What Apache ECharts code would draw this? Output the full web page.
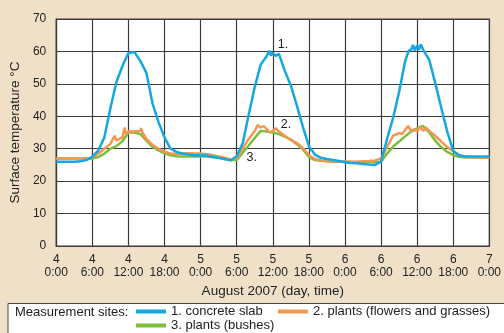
<!DOCTYPE html>
<html>
<head>
<meta charset="utf-8">
<script src="https://cdn.jsdelivr.net/npm/echarts@6/dist/echarts.min.js"></script>
<style>html,body{margin:0;padding:0;background:#f0e0c8;}#c{width:504px;height:333px;}</style>
</head>
<body>
<div id="c"></div>
<script>
// x positions in hours since 4 Aug 0:00
var hours = [0,1,2,3,4,5,6,7,8,9,10,11,12,13,14,15,16,17,18,19,20,21,22,23,24,25,26,27,28,29,30,31,32,33,34,35,36,37,38,39,40,41,42,43,44,45,46,47,48,49,50,51,52,53,54,55,56,57,58,59,60,61,62,63,64,65,66,67,68,69,70,71,72];
var xTickLabels = ['4\n0:00','4\n6:00','4\n12:00','4\n18:00','5\n0:00','5\n6:00','5\n12:00','5\n18:00','6\n0:00','6\n6:00','6\n12:00','6\n18:00','7\n0:00'];
var seriesNames = ['1. concrete slab','2. plants (flowers and grasses)','3. plants (bushes)'];
var concreteHours = [0,1,2,3,4,5,6,7,8,9,10,11,12,13,14,15,16,17,18,19,20,21,22,23,24,25,26,27,28,29,30,31,32,33,34,35,35.4,35.7,36,36.5,37,38,39,40,41,42,43,44,45,46,47,
  48,49,50,51,52,53,54,55,56,57,58,58.6,59,59.3,59.6,60,60.3,60.6,61,62,63,64,65,66,67,68,69,70,71,72];
var concrete = [26,26,26,26,26.1,26.5,27.5,29.5,33.5,42.5,50.5,55.5,59.5,59.8,57,53.3,44,38.2,33.5,30,29,28.5,28.2,28,
  28,27.8,27.5,27.2,26.8,26.4,27.6,31.7,40.5,49,56,58.6,60.2,58.7,59.6,58.6,59.3,54,49.5,43.3,36.8,30.8,28.2,27.2,26.8,26.5,26.2,
  25.8,25.6,25.5,25.3,25.1,25,26,33,39.5,47.5,57,60.2,60.5,62,60.3,61.8,60.5,62.2,60.5,57.5,50.3,42.7,35.3,29.3,27.9,27.6,27.6,27.6,27.6,27.6];
var flowersHours = [0,1,2,3,4,5,6,7,8,9,9.7,10,11,11.4,11.6,12,13,14,14.1,14.3,15,16,17,18,19,20,21,22,23,24,25,26,27,28,29,30,31,32,33,33.5,34,34.5,35,35.5,36,36.5,37,38,39,40,41,42,43,44,45,46,47,48,49,50,51,52,53,54,55,56,57,57.5,58,58.5,59,59.5,60,60.5,61,61.5,62,63,64,65,66,67,68,69,70,71,72];
var flowers = [27,27,27,27,27,27,27.2,28.5,30,31.5,34,32.5,33.5,36.5,34.5,35.3,35.3,35.5,36.4,35,33,31.2,30,29.1,28.5,28.4,28.5,28.6,28.5,
  28.5,28.3,28,27.6,27.2,26.7,27,30.2,33,35.5,37.3,36.5,37,36,35,35.5,36.3,35.3,34,32.7,31.8,30.2,28,26.8,26.4,26.2,26.1,26,
  26,26,26,26.1,26.2,26.4,27,30.5,34,34.8,34.5,35.8,37,35.5,36,35.3,36.8,35.5,36.5,35.5,34,32.2,30.5,29.2,28.1,27.6,27.4,27.3,27.3,27.3,27.3];
var bushes = [27,27,27,27,27,27,27,27.4,28.5,30,30.8,32.3,35,35,34.5,32.5,30.6,29.5,28.6,28,27.7,27.6,27.6,27.6,
  27.7,27.6,27.4,27.2,26.8,26.5,26.5,28.8,31,33.3,35.5,35.3,35,34.5,33.7,32.8,31.4,29.8,27.5,26.5,26.3,26.1,26,26,
  26,25.9,25.9,25.9,25.9,25.9,26,28.5,30.7,32.2,33.8,35.3,36.3,37,35,32.5,30.5,29,28,27.5,27.3,27.3,27.3,27.3,27.3];
var labels = [{text:'1.', at:[37.7, 62]},{text:'2.', at:[38.2, 37.3]},{text:'3.', at:[32.5, 27.2]}];

function pairs(xs, ys){ return ys.map(function(v,i){return [xs[i], v];}); }
function mp(l){ return {data:[{coord:l.at, value:l.text}], symbol:'circle', symbolSize:0, silent:true,
  label:{show:true, position:'inside', formatter:l.text, color:'#222', fontSize:12.5, fontFamily:'Liberation Sans'}}; }

var chart = echarts.init(document.getElementById('c'), null, {renderer:'canvas'});
var colors = ['#13a8e3','#f5964f','#7dbd3c'];
var gridColor = '#3c3c3c';
chart.setOption({
  backgroundColor:'#f0e0c8',
  animation:false,
  textStyle:{fontFamily:'Liberation Sans'},
  grid:{left:54, right:13, top:19, bottom:87, show:true, backgroundColor:'#ffffff', borderColor:gridColor, borderWidth:1.2},
  xAxis:{type:'value', min:0, max:72, interval:6,
    name:'August 2007 (day, time)', nameLocation:'middle', nameGap:37,
    nameTextStyle:{fontSize:13.5, color:'#222'},
    axisLine:{show:true, lineStyle:{color:gridColor, width:1.2}},
    axisTick:{show:false},
    splitLine:{show:true, lineStyle:{color:gridColor, width:1.2}},
    axisLabel:{fontSize:12, lineHeight:13, color:'#222', margin:7,
      formatter:function(v){ return xTickLabels[Math.round(v/6)]; }}
  },
  yAxis:{type:'value', min:0, max:70, interval:10,
    name:'Surface temperature °C', nameLocation:'middle', nameGap:32,
    nameTextStyle:{fontSize:13.5, color:'#222'},
    axisLine:{show:true, lineStyle:{color:gridColor, width:1.2}},
    axisTick:{show:false},
    splitLine:{show:true, lineStyle:{color:gridColor, width:1.2}},
    axisLabel:{fontSize:12, color:'#222', margin:10}
  },
  graphic:[
    {type:'rect', shape:{x:8, y:303.5, width:520, height:40}, style:{fill:'#ffffff', stroke:'#444', lineWidth:1}, z:0},
    {type:'text', x:15, y:312.7, style:{text:'Measurement sites:', fill:'#222', font:'13px "Liberation Sans"', verticalAlign:'middle'}, z:1}
  ],
  legend:[
    {data:[seriesNames[0]], left:136, top:305, itemWidth:30, itemHeight:4, icon:'rect', padding:0, itemGap:0, textStyle:{fontSize:13, color:'#222'}},
    {data:[seriesNames[1]], left:278, top:305, itemWidth:30, itemHeight:4, icon:'rect', padding:0, itemGap:0, textStyle:{fontSize:13, color:'#222'}},
    {data:[seriesNames[2]], left:136, top:319, itemWidth:30, itemHeight:4, icon:'rect', padding:0, itemGap:0, textStyle:{fontSize:13, color:'#222'}}
  ],
  series:[
    {name:seriesNames[2], type:'line', data:pairs(hours, bushes), showSymbol:false, symbol:'none', color:colors[2], lineStyle:{width:2.5, color:colors[2]}, z:2, markPoint:mp(labels[2])},
    {name:seriesNames[1], type:'line', data:pairs(flowersHours, flowers), showSymbol:false, symbol:'none', color:colors[1], lineStyle:{width:2.5, color:colors[1]}, z:3, markPoint:mp(labels[1])},
    {name:seriesNames[0], type:'line', data:pairs(concreteHours, concrete), showSymbol:false, symbol:'none', color:colors[0], lineStyle:{width:2.5, color:colors[0]}, z:4, markPoint:mp(labels[0])}
  ]
});
</script>
</body>
</html>
